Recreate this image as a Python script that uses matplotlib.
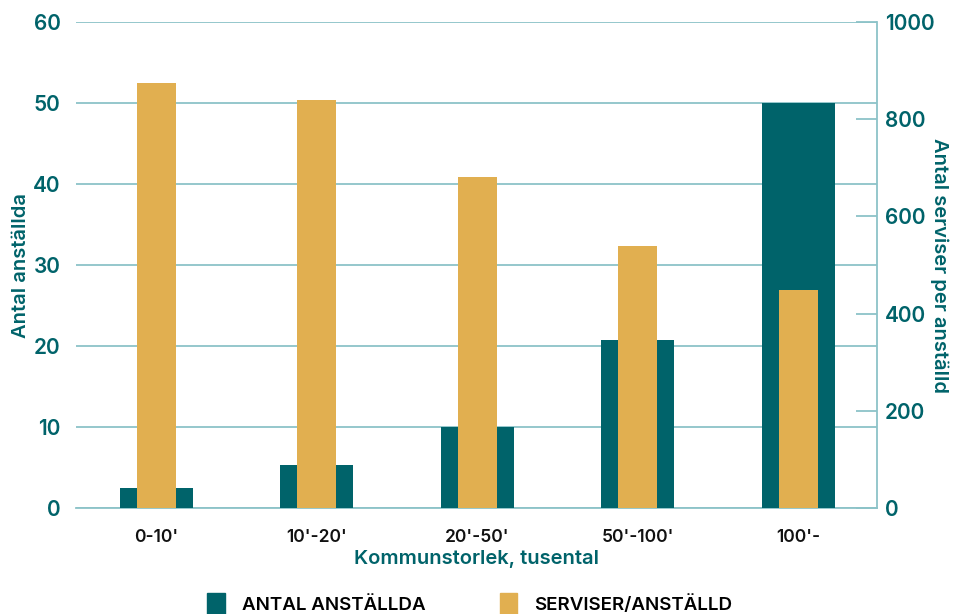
import numpy as np
import matplotlib
matplotlib.use("Agg")
import matplotlib.pyplot as plt
from matplotlib.patches import Patch

########### data ###########
categories = ["0-10'", "10'-20'", "20'-50'", "50'-100'", "100'-"]
antal_anstallda = [2.5, 5.3, 10.0, 20.7, 50.0]
serviser_per_anstalld = [874, 840, 681, 539, 449]
left_ticks = [0, 10, 20, 30, 40, 50, 60]
right_ticks = [0, 200, 400, 600, 800, 1000]
legend_labels = ["ANTAL ANSTÄLLDA", "SERVISER/ANSTÄLLD"]

########### style ###########
teal = "#00636a"
gold = "#e1af50"
grid_col = "#8cc3c8"
plt.rcParams['font.family'] = ['Inter', 'DejaVu Sans']

fig = plt.figure(figsize=(9.56, 6.14), dpi=100)
ax = fig.add_axes([0.0795, 0.1726, 0.8375, 0.7914])
ax2 = ax.twinx()

x = np.arange(len(categories))

# wide teal bars on the left axis
ax.bar(x, antal_anstallda, width=0.455, color=teal, zorder=3)
ax.set_ylim(0, 60)
ax.set_yticks(left_ticks)
ax.set_xlim(-0.5, 4.49)
ax.set_xticks(x)
ax.set_xticklabels(categories, fontsize=12.5, fontweight='semibold', color='#111111')
ax.yaxis.grid(True, color=grid_col, linewidth=1.3, zorder=0)
ax.set_axisbelow(True)
ax.tick_params(axis='y', length=0, pad=11, labelsize=15, labelcolor=teal)
ax.tick_params(axis='x', length=0, pad=15)
for lab in ax.get_yticklabels():
    lab.set_fontweight('semibold')
for s in ['left', 'top', 'right']:
    ax.spines[s].set_visible(False)
ax.spines['bottom'].set_color(grid_col)
ax.spines['bottom'].set_linewidth(1.3)
ax.set_ylabel("Antal anställda", fontsize=14.5, fontweight='semibold', color=teal, labelpad=2)
ax.set_xlabel("Kommunstorlek, tusental", fontsize=14.5, fontweight='semibold', color=teal, labelpad=3)

# narrow gold bars on the right axis, in front
ax2.bar(x, serviser_per_anstalld, width=0.243, color=gold, zorder=3)
ax2.set_ylim(0, 1000)
ax2.set_yticks(right_ticks)
ax2.tick_params(axis='y', direction='in', length=15, width=1.3, color=grid_col,
                pad=6, labelsize=15, labelcolor=teal)
for lab in ax2.get_yticklabels():
    lab.set_fontweight('semibold')
for s in ['left', 'top', 'bottom']:
    ax2.spines[s].set_visible(False)
ax2.spines['right'].set_color(grid_col)
ax2.spines['right'].set_linewidth(1.3)
ax2.set_ylabel("Antal serviser per anställd", fontsize=14.5, fontweight='semibold',
               color=teal, rotation=270, labelpad=10)

handles = [Patch(color=teal), Patch(color=gold)]
leg = fig.legend(handles, legend_labels, loc='upper left', bbox_to_anchor=(0.209, 0.047),
                 ncol=2, frameon=False, fontsize=13.5, handlelength=0.95, handleheight=1.5,
                 handletextpad=0.9, columnspacing=3.95, borderaxespad=0)
for t in leg.get_texts():
    t.set_fontweight('semibold')

fig.savefig("out.png", dpi=100)
